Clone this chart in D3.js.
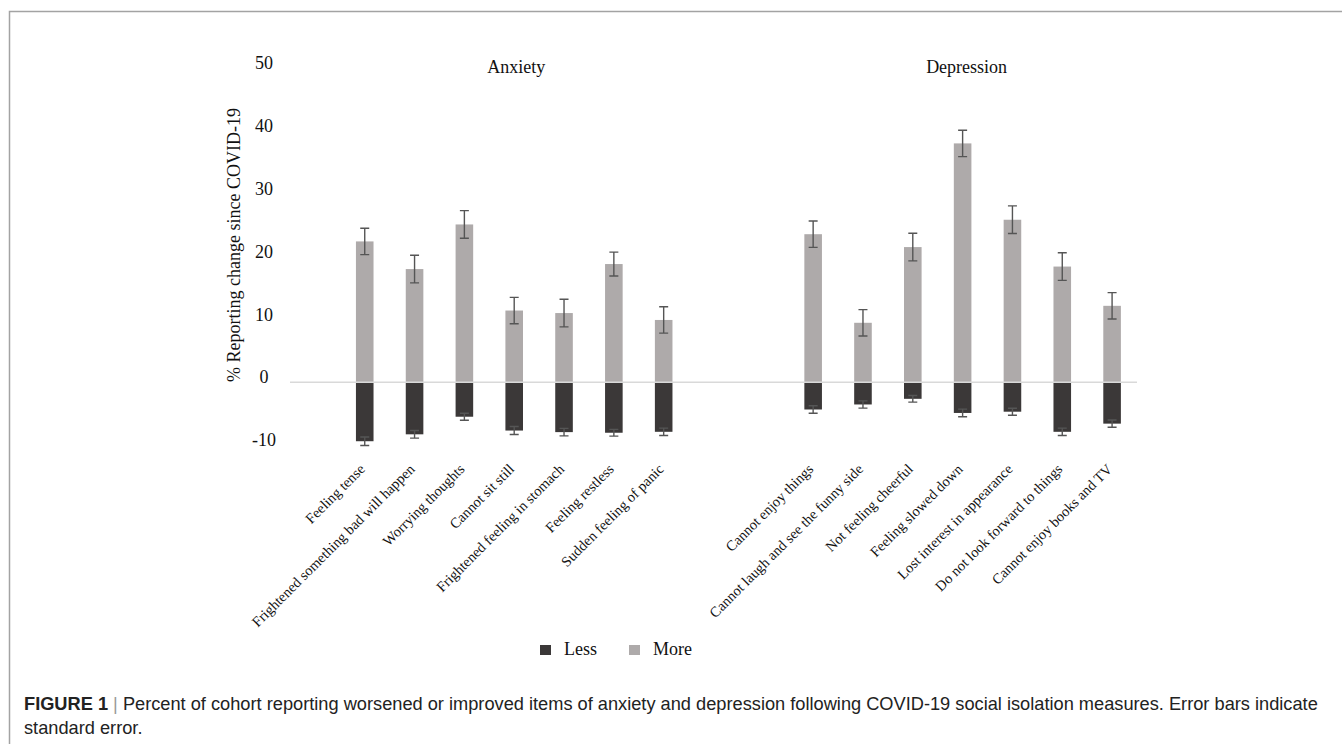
<!DOCTYPE html>
<html>
<head>
<meta charset="utf-8">
<script src="https://cdn.jsdelivr.net/npm/d3@7"></script>
<style>
    html, body { margin: 0; padding: 0; background: #fff; }
    svg { display: block; }
    .serif { font-family: "Liberation Serif", "Times New Roman", serif; fill: #111; }
    .caption { font-family: "Liberation Sans", Arial, sans-serif; fill: #222; }
</style>
</head>
<body>
<svg id="chart" width="1342" height="744"></svg>
<script>
// Anxiety / depression item changes since COVID-19 (bars with standard error)

const anxietyItems = [
    'Feeling tense', 'Frightened something bad will happen', 'Worrying thoughts',
    'Cannot sit still', 'Frightened feeling in stomach', 'Feeling restless',
    'Sudden feeling of panic'
];
const depressionItems = [
    'Cannot enjoy things', 'Cannot laugh and see the funny side', 'Not feeling cheerful',
    'Feeling slowed down', 'Lost interest in appearance', 'Do not look forward to things',
    'Cannot enjoy books and TV'
];

// "More" (worse) and "Less" values, in the same order as the items above
const anxietyMore = [22.4, 18.0, 25.1, 11.4, 11.0, 18.8, 9.9];
const anxietyMoreErr = [2.1, 2.2, 2.2, 2.1, 2.2, 1.9, 2.1];
const anxietyLess = [-9.4, -8.3, -5.5, -7.7, -7.95, -8.05, -7.9];
const anxietyLessErr = [0.67, 0.6, 0.56, 0.64, 0.6, 0.53, 0.59];

const depressionMore = [23.55, 9.45, 21.5, 38.0, 25.85, 18.4, 12.15];
const depressionMoreErr = [2.1, 2.1, 2.2, 2.1, 2.2, 2.2, 2.1];
const depressionLess = [-4.35, -3.55, -2.65, -4.9, -4.7, -7.9, -6.6];
const depressionLessErr = [0.6, 0.58, 0.53, 0.61, 0.56, 0.58, 0.58];

const yTicks = [-10, 0, 10, 20, 30, 40, 50];
const groupTitles = ['Anxiety', 'Depression'];
const seriesNames = ['Less', 'More'];

(function () {
    const COLOR_MORE = '#aeaaaa';
    const COLOR_LESS = '#3b3838';
    const ERR_COLOR = '#555';

    const svg = d3.select('#chart');

    // empty slot before the anxiety items, two empty slots between groups
    const slots = ['_pad', ...anxietyItems, '_gap1', '_gap2', ...depressionItems];

    const x = d3.scaleBand()
        .domain(slots)
        .range([290, 1137])
        .paddingInner(0.647)
        .paddingOuter(0.3235);

    const y = d3.scaleLinear()
        .domain([-10, 50])
        .range([445, 68]);

    const rows = [];
    anxietyItems.forEach((name, i) => rows.push({
        name, more: anxietyMore[i], moreErr: anxietyMoreErr[i],
        less: anxietyLess[i], lessErr: anxietyLessErr[i]
    }));
    depressionItems.forEach((name, i) => rows.push({
        name, more: depressionMore[i], moreErr: depressionMoreErr[i],
        less: depressionLess[i], lessErr: depressionLessErr[i]
    }));

    // frame (left and top rules only)
    svg.append('path')
        .attr('d', 'M9.5,744 V11.5 H1342')
        .attr('fill', 'none')
        .attr('stroke', '#a3a3a3')
        .attr('stroke-width', 1.5);

    // y tick labels
    svg.append('g')
        .selectAll('text')
        .data(yTicks)
        .join('text')
        .attr('class', 'serif')
        .attr('x', 264)
        .attr('y', d => y(d) - 5)
        .attr('dy', '0.35em')
        .attr('text-anchor', 'middle')
        .style('font-size', '18px')
        .text(d => d);

    svg.append('text')
        .attr('class', 'serif')
        .attr('transform', 'translate(240,245) rotate(-90)')
        .attr('text-anchor', 'middle')
        .style('font-size', '18px')
        .text('% Reporting change since COVID-19');

    // group titles centred over each group
    const groupCenters = [
        (x(anxietyItems[0]) + x(anxietyItems[anxietyItems.length - 1]) + x.bandwidth()) / 2,
        (x(depressionItems[0]) + x(depressionItems[depressionItems.length - 1]) + x.bandwidth()) / 2
    ];
    svg.append('g')
        .selectAll('text')
        .data(groupTitles)
        .join('text')
        .attr('class', 'serif')
        .attr('x', (d, i) => groupCenters[i] + (i === 0 ? 2 : 4))
        .attr('y', 73)
        .attr('text-anchor', 'middle')
        .style('font-size', '18px')
        .text(d => d);

    // bars
    const bars = svg.append('g');
    bars.selectAll('rect.more')
        .data(rows)
        .join('rect')
        .attr('class', 'more')
        .attr('x', d => x(d.name))
        .attr('width', x.bandwidth())
        .attr('y', d => y(d.more))
        .attr('height', d => y(0) - y(d.more))
        .attr('fill', COLOR_MORE);

    bars.selectAll('rect.less')
        .data(rows)
        .join('rect')
        .attr('class', 'less')
        .attr('x', d => x(d.name))
        .attr('width', x.bandwidth())
        .attr('y', y(0))
        .attr('height', d => y(d.less) - y(0))
        .attr('fill', COLOR_LESS);

    // zero line
    svg.append('line')
        .attr('x1', x.range()[0])
        .attr('x2', x.range()[1])
        .attr('y1', y(0))
        .attr('y2', y(0))
        .attr('stroke', '#d9d9d9')
        .attr('stroke-width', 1.5);

    // error bars
    const errs = [];
    rows.forEach(d => {
        errs.push({ name: d.name, v: d.more, e: d.moreErr });
        errs.push({ name: d.name, v: d.less, e: d.lessErr });
    });
    const cap = 4.5;
    svg.append('g')
        .selectAll('path')
        .data(errs)
        .join('path')
        .attr('d', d => {
            const cx = x(d.name) + x.bandwidth() / 2;
            const y1 = y(d.v + d.e), y2 = y(d.v - d.e);
            return `M${cx},${y1}V${y2}M${cx - cap},${y1}H${cx + cap}M${cx - cap},${y2}H${cx + cap}`;
        })
        .attr('fill', 'none')
        .attr('stroke', ERR_COLOR)
        .attr('stroke-width', 1.4);

    // rotated category labels
    svg.append('g')
        .selectAll('text')
        .data(rows)
        .join('text')
        .attr('class', 'serif')
        .attr('transform', d => `translate(${x(d.name) + x.bandwidth() / 2 + 1},470) rotate(-45)`)
        .attr('text-anchor', 'end')
        .style('font-size', '14.5px')
        .text(d => d.name);

    // legend
    const legendX = [540, 629];
    const legend = svg.append('g')
        .selectAll('g')
        .data(seriesNames)
        .join('g')
        .attr('transform', (d, i) => `translate(${legendX[i]},645)`);
    legend.append('rect')
        .attr('width', 11)
        .attr('height', 10)
        .attr('fill', (d, i) => i === 0 ? COLOR_LESS : COLOR_MORE);
    legend.append('text')
        .attr('class', 'serif')
        .attr('x', 24)
        .attr('y', 10)
        .style('font-size', '18px')
        .text(d => d);

    // caption
    const cap1 = svg.append('text')
        .attr('class', 'caption')
        .attr('x', 24)
        .attr('y', 710)
        .style('font-size', '16px');
    cap1.append('tspan').style('font-weight', 'bold').text('FIGURE 1');
    cap1.append('tspan').style('fill', '#999').text(' | ');
    cap1.append('tspan').text('Percent of cohort reporting worsened or improved items of anxiety and depression following COVID-19 social isolation measures. Error bars indicate');

    const len = cap1.node().getComputedTextLength();
    const fs = 16 * 1294 / len;
    cap1.style('font-size', fs + 'px');

    svg.append('text')
        .attr('class', 'caption')
        .attr('x', 24)
        .attr('y', 734)
        .style('font-size', fs + 'px')
        .text('standard error.');
})();
</script>
</body>
</html>
